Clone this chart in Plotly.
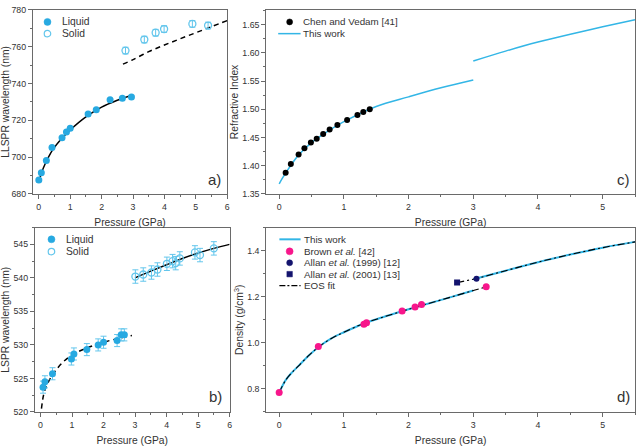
import plotly.graph_objects as go

W, H = 640, 446

# ---------------- data ----------------
# Panel a) LLSPR wavelength vs pressure
a_liq_p = [0.0, 0.08, 0.24, 0.42, 0.74, 0.88, 1.0, 1.57, 1.83, 2.27, 2.66, 2.95]
a_liq_l = [687.6, 691.5, 698.2, 705.3, 710.6, 713.6, 715.7, 723.4, 725.7, 731.2, 732.0, 732.7]
a_sol_p = [2.76, 3.36, 3.72, 3.99, 4.89, 5.39]
a_sol_l = [757.9, 763.9, 767.6, 769.6, 772.4, 771.5]
a_sol_err = [1.8, 1.8, 1.8, 1.8, 1.8, 1.8]
a_fitliq_p = [0.0, 0.05, 0.1, 0.2, 0.3, 0.45, 0.7, 1.0, 1.5, 2.0, 2.5, 3.0]
a_fitliq_l = [686.0, 689.5, 692.2, 696.3, 699.8, 704.2, 709.6, 714.8, 721.9, 727.2, 730.9, 733.9]
a_fitsol_p = [2.68, 3.0, 3.5, 4.0, 4.5, 5.0, 5.5, 6.0]
a_fitsol_l = [750.5, 753.0, 757.3, 760.9, 764.3, 767.6, 770.9, 774.2]

# Panel b) LSPR wavelength vs pressure
b_liq_p = [0.08, 0.14, 0.38, 0.98, 1.06, 1.47, 1.83, 2.0, 2.43, 2.56, 2.66]
b_liq_l = [523.7, 524.5, 525.7, 527.9, 528.65, 529.3, 530.0, 530.4, 530.65, 531.5, 531.5]
b_liq_err = [0.9] * 11
b_sol_p = [3.01, 3.26, 3.52, 3.71, 4.01, 4.19, 4.29, 4.42, 4.9, 5.06, 5.5]
b_sol_l = [540.2, 540.5, 540.8, 541.25, 542.1, 542.5, 542.2, 542.9, 543.8, 543.4, 544.4]
b_sol_err = [1.0] * 11
b_fitliq_p = [0.03, 0.1, 0.2, 0.35, 0.5, 0.75, 1.0, 1.5, 2.0, 2.5, 2.9]
b_fitliq_l = [520.5, 522.6, 524.0, 525.3, 526.3, 527.6, 528.5, 529.6, 530.4, 531.0, 531.4]
b_fitsol_p = [3.0, 3.5, 4.0, 4.5, 5.0, 5.5, 6.0]
b_fitsol_l = [540.0, 541.0, 541.95, 542.9, 543.7, 544.4, 545.0]

# Panel c) refractive index
c_chen_p = [0.10, 0.18, 0.30, 0.39, 0.49, 0.58, 0.68, 0.78, 0.90, 1.05, 1.21, 1.30, 1.40]
c_chen_n = [1.3875, 1.403, 1.420, 1.431, 1.441, 1.448, 1.456, 1.464, 1.472, 1.481, 1.490, 1.495, 1.500]
c_liq_p = [0.0, 0.05, 0.1, 0.2, 0.3, 0.5, 0.75, 1.0, 1.5, 2.0, 2.5, 3.0]
c_liq_n = [1.368, 1.378, 1.387, 1.404, 1.419, 1.441, 1.461, 1.478, 1.505, 1.522, 1.538, 1.552]
c_sol_p = [3.0, 3.5, 4.0, 4.5, 5.0, 5.5]
c_sol_n = [1.5855, 1.603, 1.619, 1.633, 1.646, 1.6587]

# Panel d) density
d_brown_p = [0.0, 0.605, 1.31, 1.35, 1.90, 2.10, 2.20, 3.20]
d_brown_r = [0.784, 0.984, 1.081, 1.087, 1.138, 1.155, 1.166, 1.243]
d_allan99_p = [3.05]
d_allan99_r = [1.278]
d_allan01_p = [2.75]
d_allan01_r = [1.262]
d_work_liq_p = [0.0, 0.1, 0.2, 0.3, 0.45, 0.6, 0.8, 1.0, 1.3, 1.6, 1.9, 2.2, 2.6, 3.0]
d_work_liq_r = [0.784, 0.838, 0.872, 0.900, 0.943, 0.980, 1.018, 1.046, 1.083, 1.111, 1.137, 1.162, 1.194, 1.227]
d_work_sol_p = [3.0, 3.5, 4.0, 4.5, 5.0, 5.5]
d_work_sol_r = [1.276, 1.313, 1.350, 1.383, 1.413, 1.438]
d_eos_liq_p = d_work_liq_p + [3.2]
d_eos_liq_r = d_work_liq_r + [1.243]
d_eos_sol_p = [2.75] + d_work_sol_p
d_eos_sol_r = [1.262] + d_work_sol_r

# ---------------- style ----------------
FONT = "Arial, Liberation Sans, sans-serif"
CYAN = "#27A9E1"
LCYAN = "#63C6EC"
LINEC = "#33B6E6"
PINK = "#F7168B"
NAVY = "#14146E"
AXC = "#6a6a6a"
TXT = "#333333"


def px(x):
    return x / W


def py(y):
    return 1 - y / H


fig = go.Figure()

# ---- panel a (x, y)
fig.add_trace(go.Scatter(x=a_fitliq_p, y=a_fitliq_l, mode="lines", xaxis="x", yaxis="y",
                         line=dict(color="black", width=1.5, shape="spline"), showlegend=False))
fig.add_trace(go.Scatter(x=a_fitsol_p, y=a_fitsol_l, mode="lines", xaxis="x", yaxis="y",
                         line=dict(color="black", width=1.5, dash="5px,4px", shape="spline"), showlegend=False))
fig.add_trace(go.Scatter(x=a_liq_p, y=a_liq_l, mode="markers", xaxis="x", yaxis="y", name="Liquid",
                         marker=dict(color=CYAN, size=7), showlegend=False))
fig.add_trace(go.Scatter(x=a_sol_p, y=a_sol_l, mode="markers", xaxis="x", yaxis="y", name="Solid",
                         marker=dict(color=LCYAN, size=7, symbol="circle-open", line=dict(width=1.3)),
                         error_y=dict(type="data", array=a_sol_err, color=LCYAN, thickness=1, width=3),
                         showlegend=False))

# ---- panel c (x2, y2)
fig.add_trace(go.Scatter(x=c_liq_p, y=c_liq_n, mode="lines", xaxis="x2", yaxis="y2",
                         line=dict(color=LINEC, width=1.5, shape="spline"), showlegend=False))
fig.add_trace(go.Scatter(x=c_sol_p, y=c_sol_n, mode="lines", xaxis="x2", yaxis="y2",
                         line=dict(color=LINEC, width=1.5, shape="spline"), showlegend=False))
fig.add_trace(go.Scatter(x=c_chen_p, y=c_chen_n, mode="markers", xaxis="x2", yaxis="y2",
                         marker=dict(color="black", size=6), showlegend=False))

# ---- panel b (x3, y3)
fig.add_trace(go.Scatter(x=b_fitliq_p, y=b_fitliq_l, mode="lines", xaxis="x3", yaxis="y3",
                         line=dict(color="black", width=1.5, dash="5px,4px", shape="spline"), showlegend=False))
fig.add_trace(go.Scatter(x=b_fitsol_p, y=b_fitsol_l, mode="lines", xaxis="x3", yaxis="y3",
                         line=dict(color="black", width=1.5, shape="spline"), showlegend=False))
fig.add_trace(go.Scatter(x=b_liq_p, y=b_liq_l, mode="markers", xaxis="x3", yaxis="y3",
                         marker=dict(color=CYAN, size=7),
                         error_y=dict(type="data", array=b_liq_err, color=LCYAN, thickness=1, width=3),
                         showlegend=False))
fig.add_trace(go.Scatter(x=b_sol_p, y=b_sol_l, mode="markers", xaxis="x3", yaxis="y3",
                         marker=dict(color=LCYAN, size=7, symbol="circle-open", line=dict(width=1.3)),
                         error_y=dict(type="data", array=b_sol_err, color=LCYAN, thickness=1, width=3),
                         showlegend=False))

# ---- panel d (x4, y4)
for xs, ys in [(d_work_liq_p, d_work_liq_r), (d_work_sol_p, d_work_sol_r)]:
    fig.add_trace(go.Scatter(x=xs, y=ys, mode="lines", xaxis="x4", yaxis="y4",
                             line=dict(color=LINEC, width=2, shape="spline"), showlegend=False))
for xs, ys in [(d_eos_liq_p, d_eos_liq_r), (d_eos_sol_p, d_eos_sol_r)]:
    fig.add_trace(go.Scatter(x=xs, y=ys, mode="lines", xaxis="x4", yaxis="y4",
                             line=dict(color="black", width=1.1, dash="7px,3px,2px,3px", shape="spline"),
                             showlegend=False))
fig.add_trace(go.Scatter(x=d_brown_p, y=d_brown_r, mode="markers", xaxis="x4", yaxis="y4",
                         marker=dict(color=PINK, size=7), showlegend=False))
fig.add_trace(go.Scatter(x=d_allan99_p, y=d_allan99_r, mode="markers", xaxis="x4", yaxis="y4",
                         marker=dict(color=NAVY, size=6), showlegend=False))
fig.add_trace(go.Scatter(x=d_allan01_p, y=d_allan01_r, mode="markers", xaxis="x4", yaxis="y4",
                         marker=dict(color=NAVY, size=6, symbol="square"), showlegend=False))


def axis(domain, rng, dtick, mdtick, anchor, title, fmt=None, standoff=None):
    d = dict(domain=domain, range=rng, dtick=dtick, tick0=0, showline=True, linecolor=AXC,
             linewidth=1, mirror=True, ticks="outside", ticklen=4, tickcolor=AXC, tickwidth=1,
             minor=dict(ticks="outside", ticklen=2, dtick=mdtick, tick0=0, tickcolor=AXC, showgrid=False),
             showgrid=False, zeroline=False, anchor=anchor,
             tickfont=dict(family=FONT, size=8.8, color=TXT),
             title=dict(text=title, font=dict(family=FONT, size=10.3, color=TXT)))
    if fmt:
        d["tickformat"] = fmt
    if standoff is not None:
        d["title"]["standoff"] = standoff
    return d


top = [py(193.3), py(5)]
bot = [py(416.3), py(227.7)]

fig.update_layout(
    width=W, height=H, margin=dict(l=0, r=0, t=0, b=0),
    paper_bgcolor="white", plot_bgcolor="white", showlegend=False,
    xaxis=axis([px(33), px(228.3)], [-0.19, 6], 1, 0.5, "y", "Pressure (GPa)", standoff=8),
    yaxis=axis(top, [680, 780], 20, 10, "x", "LLSPR wavelength (nm)", standoff=1),
    xaxis2=axis([px(267.5), px(638)], [-0.2, 5.5], 1, 0.5, "y2", "Pressure (GPa)", standoff=8),
    yaxis2=axis(top, [1.35, 1.676], 0.05, 0.025, "x2", "Refractive Index", fmt=".2f", standoff=1),
    xaxis3=axis([px(35), px(230.7)], [-0.18, 6], 1, 0.5, "y3", "Pressure (GPa)", standoff=8),
    yaxis3=axis(bot, [520, 547.5], 5, 2.5, "x3", "LSPR wavelength (nm)", standoff=1),
    xaxis4=axis([px(267.5), px(638)], [-0.2, 5.5], 1, 0.5, "y4", "Pressure (GPa)", standoff=8),
    yaxis4=axis(bot, [0.7, 1.5], 0.2, 0.1, "x4", "Density (g/cm<sup>3</sup>)", fmt=".1f", standoff=1),
)

# ---------------- manual legends & panel labels ----------------
shapes = []
annotations = []


def leg_marker(xc, yc, kind, color, size, filled=True):
    r = size / 2
    shapes.append(dict(type="circle" if kind == "circle" else "rect", xref="paper", yref="paper",
                       xsizemode="pixel", ysizemode="pixel", xanchor=px(xc), yanchor=py(yc),
                       x0=-r, x1=r, y0=-r, y1=r,
                       fillcolor=color if filled else "rgba(0,0,0,0)",
                       line=dict(color=color, width=1.2 if not filled else 0.5)))


def leg_line(x0, x1, yc, color, width, dash="solid"):
    shapes.append(dict(type="line", xref="paper", yref="paper", x0=px(x0), x1=px(x1),
                       y0=py(yc), y1=py(yc), line=dict(color=color, width=width, dash=dash)))


def leg_text(x, yc, text, size):
    annotations.append(dict(xref="paper", yref="paper", x=px(x), y=py(yc), text=text,
                            xanchor="left", yanchor="middle", showarrow=False,
                            font=dict(family=FONT, size=size, color=TXT)))


# a)
leg_marker(47.7, 17.3, "circle", CYAN, 7)
leg_text(60, 17.3, "Liquid", 10.3)
leg_marker(47.7, 29.3, "circle", LCYAN, 6.5, filled=False)
leg_text(60, 29.3, "Solid", 10.3)
# b)
leg_marker(51.7, 239.7, "circle", CYAN, 7)
leg_text(64, 239.7, "Liquid", 10.3)
leg_marker(51.7, 252.3, "circle", LCYAN, 6.5, filled=False)
leg_text(64, 252.3, "Solid", 10.3)
# c)
leg_marker(291, 17.3, "circle", "black", 6)
leg_text(302.5, 17.3, "Chen and Vedam [41]", 9.8)
leg_line(279.5, 302, 29.3, LINEC, 1.5)
leg_text(302.5, 29.3, "This work", 9.8)
# d)
leg_line(280.7, 302, 239.7, LINEC, 2)
leg_text(303, 239.7, "This work", 9.8)
leg_marker(291, 252, "circle", PINK, 7)
leg_text(303, 252, "Brown <i>et al.</i> [42]", 9.8)
leg_marker(291, 263.7, "circle", NAVY, 6)
leg_text(303, 263.7, "Allan <i>et al.</i> (1999) [12]", 9.8)
leg_marker(291, 275.3, "rect", NAVY, 5.5)
leg_text(303, 275.3, "Allan <i>et al.</i> (2001) [13]", 9.8)
leg_line(280.7, 302, 287, "black", 1.2, "6px,2px,2px,2px")
leg_text(303, 287, "EOS fit", 9.8)

for lab, x, y in [("a)", 215.5, 178), ("c)", 626.5, 178), ("b)", 217, 400.7), ("d)", 626.5, 400.7)]:
    annotations.append(dict(xref="paper", yref="paper", x=px(x), y=py(y), text=lab,
                            xanchor="center", yanchor="middle", showarrow=False,
                            font=dict(family=FONT, size=15, color=TXT)))

fig.update_layout(shapes=shapes, annotations=annotations)

fig.write_html("out.html", config={"displayModeBar": False},
               post_script="document.body.style.margin='0px';")
